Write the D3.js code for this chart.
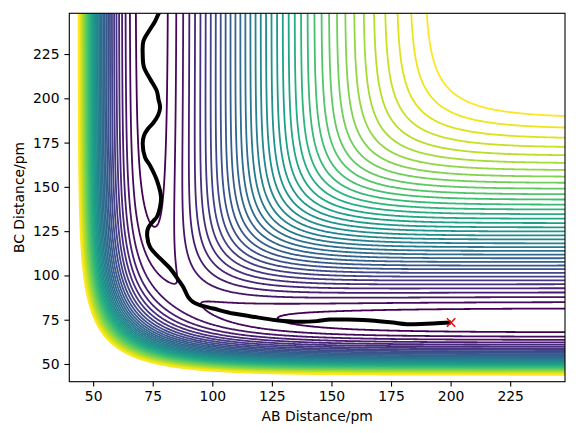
<!DOCTYPE html>
<html><head><meta charset="utf-8">
<script src="https://cdn.jsdelivr.net/npm/d3@7"></script>
<style>
body{margin:0;background:#fff}
text{font-family:"DejaVu Sans",sans-serif;}
</style>
</head><body>
<svg id="chart" width="581" height="433"></svg>
<script>
// ---- data ----
const xTicks = [50, 75, 100, 125, 150, 175, 200, 225];
const yTicks = [50, 75, 100, 125, 150, 175, 200, 225];
const xLabel = "AB Distance/pm";
const yLabel = "BC Distance/pm";

// trajectory (pm)
const trajAB = [200.2,192.6,181.6,175.8,169.0,163.2,155.7,149.4,143.8,136.8,127.0,115.8,108.8,100.4,94.8,92.0,89.9,87.8,85.6,82.3,78.1,73.9,72.7,73.0,74.7,76.8,78.1,78.5,76.8,73.9,71.8,70.8,71.3,73.0,75.2,77.3,78.1,77.4,76.7,73.9,71.3,70.8,71.1,73.9,76.0,77.3,79.0];
const trajBC = [73.4,72.9,72.5,73.4,74.3,74.9,75.1,75.1,74.2,73.8,74.7,77.0,78.5,81.3,83.2,84.9,87.8,93.5,97.8,104.0,109.6,116.0,122.0,126.5,129.9,133.2,138.9,144.1,153.5,162.0,166.6,174.2,178.8,182.8,186.1,190.6,194.8,199.6,204.2,210.9,217.7,224.8,232.3,239.0,243.5,247.3,251.0];
const startPoint = [200.2, 73.4];

// LEPS surface parameters (H + H2)
const morseD = 4.746;      // eV
const morseA = 0.0215;     // 1/pm
const morseRe = 74.14;     // pm
const satoK = 0.168;
// contour levels (eV)
const levelStart = -4.6443, levelStep = 0.1048, levelCount = 38;

// ---- layout ----
const plot = {left: 69.3, right: 565, top: 13.3, bottom: 381.7};
const domainMin = 40, domainMax = 248;

const svg = d3.select("#chart");
const xScale = d3.scaleLinear().domain([domainMin, domainMax]).range([plot.left, plot.right]);
const yScale = d3.scaleLinear().domain([domainMin, domainMax]).range([plot.bottom, plot.top]);

svg.append("defs").append("clipPath").attr("id","clip")
  .append("rect").attr("x",plot.left).attr("y",plot.top)
  .attr("width",plot.right-plot.left).attr("height",plot.bottom-plot.top);

function pairTerms(r){
  const e1 = Math.exp(-morseA*(r-morseRe)), e2 = e1*e1;
  const Q = morseD/4*((3+satoK)*e2 - (2+6*satoK)*e1);
  const J = morseD/4*((1+3*satoK)*e2 - (6+2*satoK)*e1);
  return [Q,J];
}
function leps(rab, rbc){
  const [Qa,Ja] = pairTerms(rab), [Qb,Jb] = pairTerms(rbc), [Qc,Jc] = pairTerms(rab+rbc);
  return (Qa+Qb+Qc - Math.sqrt(0.5*((Ja-Jb)**2+(Jb-Jc)**2+(Jc-Ja)**2)))/(1+satoK);
}

const g0 = 34, step = 0.5, n = 441;
const values = new Float64Array(n*n);
for (let j=0;j<n;j++) for (let i=0;i<n;i++) values[j*n+i] = leps(g0+i*step, g0+j*step);

const levels = d3.range(levelCount).map(i => levelStart + i*levelStep);
const color = d3.scaleSequential(d3.interpolateViridis).domain([levels[0], levels[levels.length-1]]);

const contours = d3.contours().size([n,n]).thresholds(levels)(values);
const proj = d3.geoTransform({point(x,y){ this.stream.point(xScale(g0+(x-0.5)*step), yScale(g0+(y-0.5)*step)); }});
const path = d3.geoPath(proj);

const cg = svg.append("g").attr("clip-path","url(#clip)");
cg.selectAll("path.c").data(contours).join("path")
  .attr("d", path).attr("fill","none")
  .attr("stroke", d => color(d.value)).attr("stroke-width",1.8);

const traj = trajAB.map((v,i)=>[v, trajBC[i]]);
cg.append("path").datum(traj)
  .attr("d", d3.line().x(d=>xScale(d[0])).y(d=>yScale(d[1])).curve(d3.curveCatmullRom))
  .attr("fill","none").attr("stroke","#000").attr("stroke-width",4).attr("stroke-linejoin","round");

// red x marker
const sx = xScale(startPoint[0]), sy = yScale(startPoint[1]), m = 4.2;
svg.append("path").attr("d",`M${sx-m},${sy-m}L${sx+m},${sy+m}M${sx-m},${sy+m}L${sx+m},${sy-m}`)
  .attr("stroke","red").attr("stroke-width",1.5).attr("fill","none");

// axes
const xAxis = svg.append("g").attr("transform",`translate(0,${plot.bottom})`)
  .call(d3.axisBottom(xScale).tickValues(xTicks).tickSize(4.9).tickPadding(4.9).tickFormat(d3.format("d")));
const yAxis = svg.append("g").attr("transform",`translate(${plot.left},0)`)
  .call(d3.axisLeft(yScale).tickValues(yTicks).tickSize(4.9).tickPadding(4.9).tickFormat(d3.format("d")));
[xAxis,yAxis].forEach(a=>{
  a.select(".domain").remove();
  a.selectAll("line").attr("stroke","#000").attr("stroke-width",1.1);
  a.selectAll("text").attr("font-family","DejaVu Sans, sans-serif").attr("font-size","13.9px").attr("fill","#000");
});
svg.append("rect").attr("x",plot.left).attr("y",plot.top)
  .attr("width",plot.right-plot.left).attr("height",plot.bottom-plot.top)
  .attr("fill","none").attr("stroke","#000").attr("stroke-width",1.1);

svg.append("text").attr("x",(plot.left+plot.right)/2).attr("y",421)
  .attr("text-anchor","middle").attr("font-size","13.9px").text(xLabel);
svg.append("text").attr("transform",`translate(24,${(plot.top+plot.bottom)/2}) rotate(-90)`)
  .attr("text-anchor","middle").attr("font-size","13.9px").text(yLabel);
</script>
</body></html>
